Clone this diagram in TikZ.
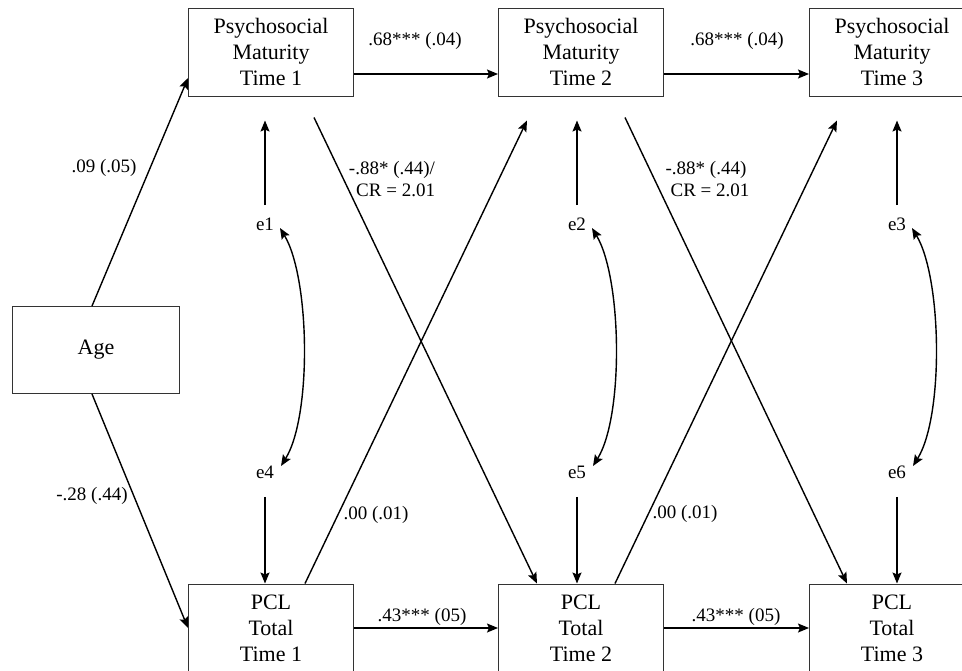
\documentclass[tikz,border=0pt]{standalone}
\usepackage{fontspec}
\setmainfont{Liberation Serif}
\usepackage{tikz}
\tikzset{
     arrow/.style={-{Stealth[length=11pt,width=9pt,inset=2pt]}, line width=1.4pt},
     twoway/.style={{Stealth[length=11pt,width=9pt,inset=2pt]}-{Stealth[length=11pt,width=9pt,inset=2pt]}, line width=1.4pt},
     varbox/.style={draw=black!80, line width=1pt, minimum width=165pt, minimum height=88pt,
                    align=center, inner sep=0pt, font=\fontsize{22}{26}\selectfont},
     coef/.style={font=\fontsize{19}{22}\selectfont, inner sep=1pt},
     err/.style={font=\fontsize{19}{22}\selectfont}
     }
\usetikzlibrary{positioning,arrows.meta}

\begin{document}
\begin{tikzpicture}[x=1pt,y=-1pt]
                    \clip (0,0) rectangle (962,670);
                    % Place nodes
                    \node [varbox] (pm1) at (271,52) {Psychosocial\\Maturity\\Time 1};
                    \node [varbox, right=144pt of pm1] (pm2) {Psychosocial\\Maturity\\Time 2};
                    \node [varbox, right=145pt of pm2] (pm3) {Psychosocial\\Maturity\\Time 3};
                    \node [varbox, below=487pt of pm1] (pcl1) {PCL\\Total\\Time 1};
                    \node [varbox, below=487pt of pm2] (pcl2) {PCL\\Total\\Time 2};
                    \node [varbox, below=487pt of pm3] (pcl3) {PCL\\Total\\Time 3};
                    \node [varbox, minimum width=167pt, minimum height=87pt] (age) at (96,350) {Age};
                    \node [err] (e1) at (265,224) {e1};
                    \node [err] (e2) at (577,224) {e2};
                    \node [err] (e3) at (897,224) {e3};
                    \node [err] (e4) at (265,472) {e4};
                    \node [err] (e5) at (577,472) {e5};
                    \node [err] (e6) at (897,472) {e6};
                    % Draw edges
                    \draw[arrow] ([xshift=-4pt]age.north) -- ([yshift=-26pt]pm1.west);
                    \draw[arrow] ([xshift=-4pt]age.south) -- (pcl1.west);
                    \draw[arrow] ([yshift=-22pt]pm1.east) -- ([yshift=-22pt]pm2.west);
                    \draw[arrow] ([yshift=-22pt]pm2.east) -- ([yshift=-22pt]pm3.west);
                    \draw[arrow] (pcl1.east) -- (pcl2.west);
                    \draw[arrow] (pcl2.east) -- (pcl3.west);
                    \draw[arrow] ([shift={(43pt,-21pt)}]pm1.south) -- ([xshift=-44pt]pcl2.north);
                    \draw[arrow] ([shift={(44pt,-21pt)}]pm2.south) -- ([xshift=-45pt]pcl3.north);
                    \draw[arrow] ([xshift=34pt]pcl1.north) -- ([shift={(-54pt,-24pt)}]pm2.south);
                    \draw[arrow] ([xshift=34pt]pcl2.north) -- ([shift={(-55pt,-24pt)}]pm3.south);
                    \foreach \e/\p in {e1/pm1, e2/pm2, e3/pm3}
                      \draw[arrow, shorten <=9pt, shorten >=24pt] (\e) -- (\e |- \p.south);
                    \foreach \e/\p in {e4/pcl1, e5/pcl2, e6/pcl3}
                      \draw[arrow, shorten <=15pt] (\e) -- (\e |- \p.north);
                    \foreach \a/\b in {e1/e4, e2/e5, e3/e6}
                      \draw[twoway] ([shift={(15pt,-4pt)}]\a.center) .. controls +(30,50) and +(31,-50) .. ([shift={(16pt,6pt)}]\b.center);
                    % Labels
                    \node [coef] (lagepm) at (104,168) {.09 (.05)};
                    \node [coef] (lagepcl) at (92,496) {-.28 (.44)};
                    \node [coef] (lpm12) at (415,41) {.68*** (.04)};
                    \node [coef] (lpm23) at (737,41) {.68*** (.04)};
                    \node [coef] (lpcl12) at (422,617) {.43*** (05)};
                    \node [coef] (lpcl23) at (736,617) {.43*** (05)};
                    \node [coef, align=right] (lcross1) at (392,179) {-.88* (.44)/\\CR = 2.01};
                    \node [coef, align=center] (lcross2) at (706,179) {-.88* (.44)\\\hspace*{8pt}CR = 2.01};
                    \node [coef] (lback1) at (376,515) {.00 (.01)};
                    \node [coef] (lback2) at (685,514) {.00 (.01)};
                \end{tikzpicture}
\end{document}
